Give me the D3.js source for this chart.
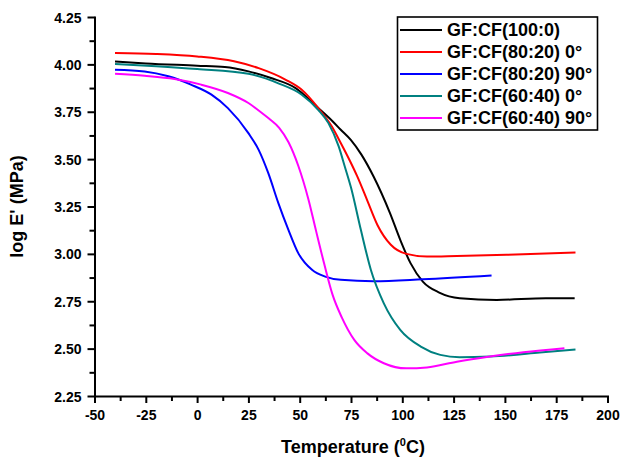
<!DOCTYPE html>
<html>
<head>
<meta charset="utf-8">
<script src="https://cdn.jsdelivr.net/npm/d3@7"></script>
<style>
  html, body { margin: 0; padding: 0; background: #fff; }
  svg { display: block; font-family: "Liberation Sans", Arial, sans-serif; }
</style>
</head>
<body>
<svg id="chart" width="622" height="459"></svg>
<script>
// ---- Data ----
const seriesNames = ["GF:CF(100:0)", "GF:CF(80:20) 0°", "GF:CF(80:20) 90°", "GF:CF(60:40) 0°", "GF:CF(60:40) 90°"];
const seriesColors = ["#000000", "#ff0000", "#0000ff", "#008080", "#ff00ff"];

const blackX = [-40, -25, 0, 13.5, 25, 36, 48, 59, 66, 70, 75, 80, 86, 94, 99, 104, 110, 118, 128, 146, 170, 184];
const blackY = [4.015, 4.005, 3.993, 3.986, 3.963, 3.928, 3.875, 3.77, 3.70, 3.655, 3.60, 3.525, 3.408, 3.215, 3.074, 2.951, 2.854, 2.796, 2.766, 2.757, 2.766, 2.766];

const redX = [-40, -20, 0, 18, 30, 43, 51, 59, 65.6, 70, 74.5, 78, 83, 88, 94.4, 102, 112, 126.6, 150.8, 184.4];
const redY = [4.06, 4.055, 4.042, 4.016, 3.98, 3.92, 3.866, 3.77, 3.673, 3.585, 3.49, 3.41, 3.28, 3.15, 3.048, 3.0, 2.986, 2.989, 2.995, 3.007];

const blueX = [-40, -25.6, -14, -3, 7, 15, 25, 30, 34.7, 39.6, 44.5, 49.3, 56, 62.4, 70, 86, 110, 143.5];
const blueY = [3.972, 3.963, 3.937, 3.893, 3.84, 3.769, 3.637, 3.549, 3.426, 3.268, 3.127, 3.004, 2.916, 2.88, 2.863, 2.856, 2.866, 2.886];

const tealX = [-40, -20, 0, 25, 39.6, 51, 59, 64, 69, 72, 75, 79.8, 84.7, 91, 99, 109, 118.5, 128, 143, 167, 184.4];
const tealY = [4.002, 3.99, 3.975, 3.95, 3.90, 3.84, 3.76, 3.69, 3.567, 3.46, 3.35, 3.127, 2.915, 2.739, 2.599, 2.511, 2.467, 2.454, 2.458, 2.479, 2.496];

const magentaX = [-40, -25.6, -11, 2, 15, 25, 30, 35, 40, 44.5, 49.3, 54.2, 58, 62, 66, 70.5, 76.6, 83, 91, 102, 112, 126.6, 142.7, 159, 179];
const magentaY = [3.951, 3.94, 3.923, 3.893, 3.849, 3.796, 3.757, 3.714, 3.665, 3.59, 3.465, 3.29, 3.12, 2.945, 2.785, 2.665, 2.546, 2.475, 2.423, 2.396, 2.401, 2.431, 2.458, 2.481, 2.502];

const xTicks = [-50, -25, 0, 25, 50, 75, 100, 125, 150, 175, 200];
const yTicks = [2.25, 2.50, 2.75, 3.00, 3.25, 3.50, 3.75, 4.00, 4.25];

const xLabel = "Temperature (";
const yLabel = "log E' (MPa)";

// ---- Layout ----
const svg = d3.select("#chart");
const margin = { left: 94.5, top: 17, right: 14.5, bottom: 63 };
const W = 622, H = 459;
const x = d3.scaleLinear().domain([-50, 200]).range([margin.left, W - margin.right]);
const y = d3.scaleLinear().domain([2.25, 4.25]).range([H - margin.bottom, margin.top]);

const xs = [blackX, redX, blueX, tealX, magentaX];
const ys = [blackY, redY, blueY, tealY, magentaY];

const line = d3.line()
  .x(d => x(d[0]))
  .y(d => y(d[1]))
  .curve(d3.curveMonotoneX);

// Curves
const plot = svg.append("g");
xs.forEach((xa, i) => {
  const pts = xa.map((v, j) => [v, ys[i][j]]);
  plot.append("path")
    .datum(pts)
    .attr("fill", "none")
    .attr("stroke", seriesColors[i])
    .attr("stroke-width", 2)
    .attr("stroke-linejoin", "round")
    .attr("d", line);
});

// Minor ticks
const xMinor = d3.range(-50, 200.1, 12.5).filter(v => !xTicks.includes(v));
const yMinor = d3.range(2.25, 4.26, 0.125).filter(v => !yTicks.some(t => Math.abs(t - v) < 1e-6));

svg.append("g")
  .attr("transform", `translate(0,${H - margin.bottom})`)
  .call(d3.axisBottom(x).tickValues(xMinor).tickSize(5).tickFormat(""))
  .call(g => g.select(".domain").remove())
  .call(g => g.selectAll("line").attr("stroke", "#000").attr("stroke-width", 2));

svg.append("g")
  .attr("transform", `translate(${margin.left},0)`)
  .call(d3.axisLeft(y).tickValues(yMinor).tickSize(5).tickFormat(""))
  .call(g => g.select(".domain").remove())
  .call(g => g.selectAll("line").attr("stroke", "#000").attr("stroke-width", 2));

// Major axes
const fmtX = d => (d < 0 ? "-" : "") + Math.abs(d);
const xAxis = svg.append("g")
  .attr("transform", `translate(0,${H - margin.bottom})`)
  .call(d3.axisBottom(x).tickValues(xTicks).tickSize(7).tickSizeOuter(0).tickPadding(7).tickFormat(fmtX));
const yAxis = svg.append("g")
  .attr("transform", `translate(${margin.left},0)`)
  .call(d3.axisLeft(y).tickValues(yTicks).tickSize(7).tickSizeOuter(0).tickPadding(6).tickFormat(d3.format(".2f")));

[xAxis, yAxis].forEach(g => {
  g.select(".domain").attr("stroke", "#000").attr("stroke-width", 2).attr("stroke-linecap", "square");
  g.selectAll(".tick line").attr("stroke", "#000").attr("stroke-width", 2);
  g.selectAll(".tick text")
    .attr("fill", "#000")
    .style("font-family", "'Liberation Sans', Arial, sans-serif")
    .style("font-size", "14px")
    .style("font-weight", "bold");
});
yAxis.selectAll(".tick text").attr("dy", "0.36em");

// Axis titles
const xt = svg.append("text")
  .attr("x", (x(-50) + x(200)) / 2 + 2)
  .attr("y", 453)
  .attr("text-anchor", "middle")
  .style("font-size", "18px")
  .style("font-weight", "bold")
  .attr("fill", "#000");
xt.append("tspan").text(xLabel);
xt.append("tspan").attr("dy", -7).style("font-size", "11px").text("0");
xt.append("tspan").attr("dy", 7).text("C)");

svg.append("text")
  .attr("transform", `translate(23,${(y(4.25) + y(2.25)) / 2}) rotate(-90)`)
  .attr("text-anchor", "middle")
  .style("font-size", "18px")
  .style("font-weight", "bold")
  .attr("fill", "#000")
  .text(yLabel);

// Legend
const lg = svg.append("g");
lg.append("rect")
  .attr("x", 397.5).attr("y", 17)
  .attr("width", 200).attr("height", 113)
  .attr("fill", "#fff").attr("stroke", "#000").attr("stroke-width", 1.6);
seriesNames.forEach((name, i) => {
  const ly = 30 + i * 22;
  lg.append("line")
    .attr("x1", 400).attr("x2", 442)
    .attr("y1", ly).attr("y2", ly)
    .attr("stroke", seriesColors[i]).attr("stroke-width", 2);
  lg.append("text")
    .attr("x", 447).attr("y", ly)
    .attr("dy", "0.36em")
    .style("font-size", "18px")
    .style("font-weight", "bold")
    .attr("fill", "#000")
    .text(name);
});
</script>
</body>
</html>
